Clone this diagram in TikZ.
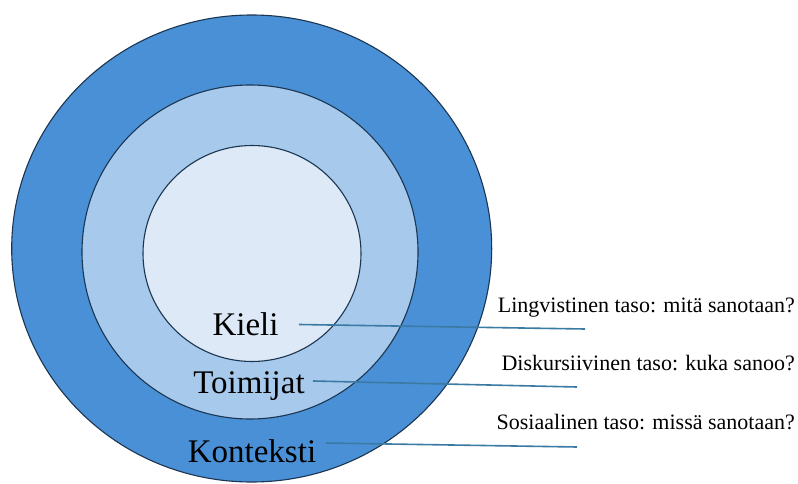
\documentclass[tikz,border=0pt]{standalone}
\usepackage{fontspec}
\setmainfont{Liberation Serif}
\definecolor{ringouter}{HTML}{4A90D6}
\definecolor{ringmid}{HTML}{A6C9EC}
\definecolor{ringinner}{HTML}{DDE9F6}
\definecolor{ringline}{HTML}{1C3550}
\definecolor{connline}{HTML}{3A7AA3}
\tikzset{
  ring/.style={draw=ringline, line width=1.1pt},
  biglabel/.style={anchor=base, inner sep=0pt, font=\fontsize{33}{36}\selectfont},
  sidelabel/.style={anchor=base east, inner sep=0pt, font=\fontsize{22}{24}\selectfont},
  conn/.style={draw=connline, line width=1.6pt}
}
\begin{document}
\begin{tikzpicture}[x=1pt,y=-1pt]
\useasboundingbox (0,0) rectangle (798,484);
\fill[white] (0,0) rectangle (798,484);
\draw[ring, fill=ringouter] (251.7,248.5) ellipse [x radius=240pt, y radius=233.5pt];
\draw[ring, fill=ringmid] (250,252) ellipse [x radius=168pt, y radius=167pt];
\draw[ring, fill=ringinner] (252,253.5) ellipse [x radius=109pt, y radius=108pt];

\node[biglabel] (kieli) at (245.5,335) {Kieli};
\node[biglabel] (toimijat) at (249,393) {Toimijat};
\node[biglabel] (konteksti) at (252,462) {Konteksti};

\node[sidelabel] (ling) at (795,312) {Lingvistinen taso: mitä sanotaan?};
\node[sidelabel] (disk) at (795,370.5) {Diskursiivinen taso: kuka sanoo?};
\node[sidelabel] (sos) at (795,429) {Sosiaalinen taso: missä sanotaan?};

\coordinate (k1) at (299,324.5);
\coordinate (k2) at (585,329);
\coordinate (t1) at (313,381);
\coordinate (t2) at (577,387);
\coordinate (c1) at (326,443);
\coordinate (c2) at (577,447);
\draw[conn] (k1) -- (k2);
\draw[conn] (t1) -- (t2);
\draw[conn] (c1) -- (c2);
\end{tikzpicture}
\end{document}
